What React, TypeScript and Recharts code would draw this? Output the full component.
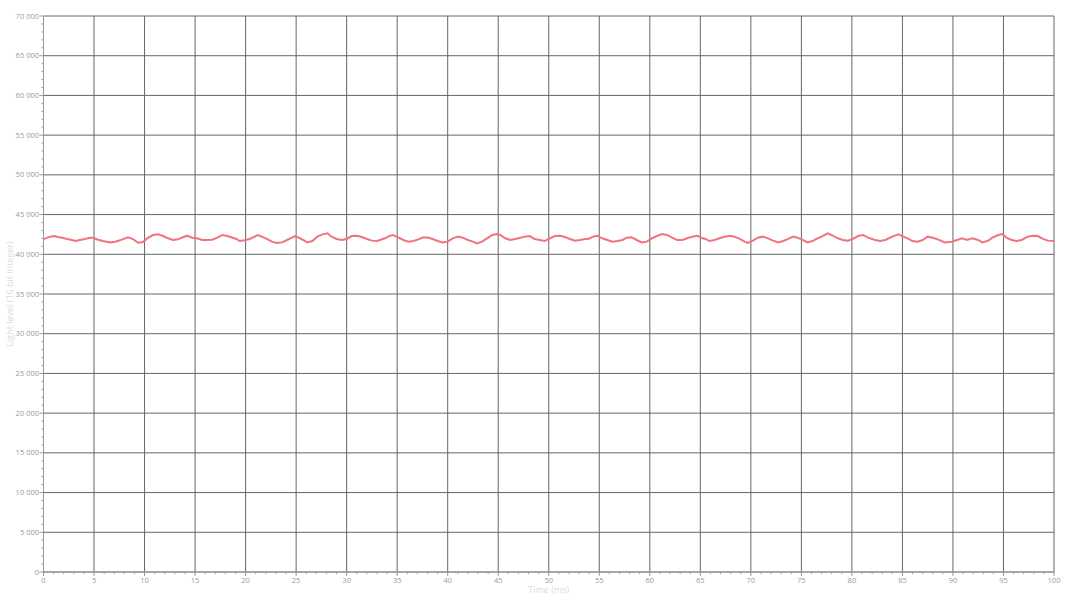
import { CartesianGrid, Line, LineChart, XAxis, YAxis } from 'recharts'

// sample times (ms)
const timeMs = [
  0, 0.64, 1.14, 1.44, 1.83, 2.33, 2.82, 3.12, 3.61, 4.11, 4.6, 4.9, 5.39, 5.89, 6.58, 7.08, 7.57, 8.07, 8.36, 8.86,
  9.35, 9.85, 10.34, 10.84, 11.33, 11.83, 12.32, 12.82, 13.31, 13.8, 14.2, 14.7, 15.19, 15.69,
  16.0, 16.7, 17.2, 17.7, 18.2, 18.7, 19.1, 19.4, 19.9, 20.4, 20.9, 21.2, 21.6, 22.1, 22.6, 23.1, 23.6, 24.1, 24.6, 24.9,
  25.2, 25.7, 26.1, 26.6, 27.1, 27.6, 28.1, 28.5, 29.0, 29.5, 30.0, 30.5, 31.0, 31.5, 32.0, 32.5,
  33.0, 33.3, 33.8, 34.3, 34.6, 35.1, 35.6, 36.1, 36.6, 37.1, 37.6, 38.1, 38.5, 39.0, 39.5, 40.0, 40.5, 41.0, 41.5, 42.0,
  42.5, 42.9, 43.4, 43.9, 44.4, 44.9, 45.2, 45.7, 46.2, 46.7, 47.2, 47.6, 48.1, 48.6,
  49.1, 49.6, 50.1, 50.6, 51.1, 51.6, 52.1, 52.6, 53.1, 53.6, 53.9, 54.4, 54.8, 55.3, 55.8, 56.3, 56.8, 57.3, 57.7, 58.2,
  58.7, 59.2, 59.7, 60.2, 60.7, 61.2, 61.7, 62.2, 62.7, 63.2, 63.7, 64.2, 64.7, 65.2,
  65.5, 65.9, 66.4, 66.9, 67.4, 67.9, 68.4, 68.9, 69.4, 69.7, 70.2, 70.7, 71.2, 71.7, 72.2, 72.7, 73.2, 73.7, 74.2, 74.6,
  75.1, 75.6, 76.1, 76.5, 77.0, 77.6, 78.1, 78.6, 79.1, 79.6, 80.1, 80.6, 81.1, 81.6,
  82.3, 82.8, 83.3, 84.0, 84.6, 85.1, 85.6, 86.0, 86.5, 87.0, 87.5, 88.0, 88.5, 89.2, 89.9, 90.4, 90.9, 91.4, 91.9, 92.5,
  92.9, 93.5, 93.9, 94.5, 94.9, 95.3, 95.8, 96.3, 96.8, 97.4, 97.9, 98.4, 98.9, 99.4, 100,
]

// light level (16 bit integer)
const lightLevel = [
  41900, 42220, 42300, 42170, 42080, 41920, 41800, 41670, 41800, 41920, 42080, 42080, 41830, 41670, 41500, 41580, 41760, 42010, 42140, 41920,
  41450, 41550, 42080, 42420, 42510, 42300, 42010, 41800, 41880, 42140, 42340, 42080, 42010, 41800,
  41800, 41840, 42090, 42430, 42300, 42090, 41930, 41670, 41760, 41930, 42220, 42430, 42220, 41930, 41590, 41420, 41500, 41800, 42090, 42300,
  42130, 41800, 41500, 41670, 42220, 42510, 42640, 42220, 41930, 41800, 41930, 42300, 42340, 42180, 41930, 41720,
  41670, 41800, 42010, 42340, 42430, 42130, 41800, 41590, 41670, 41880, 42130, 42090, 41930, 41670, 41500, 41590, 42010, 42220, 42090, 41800,
  41590, 41380, 41590, 42010, 42430, 42550, 42430, 42010, 41800, 41930, 42090, 42220, 42300, 41930,
  41800, 41670, 42010, 42300, 42340, 42180, 41930, 41720, 41800, 41930, 41930, 42220, 42340, 42010, 41800, 41590, 41670, 41800, 42090, 42130,
  41800, 41500, 41590, 42010, 42300, 42550, 42430, 42090, 41800, 41800, 42010, 42220, 42340, 42010,
  41930, 41670, 41800, 42010, 42220, 42340, 42220, 41930, 41590, 41420, 41720, 42090, 42220, 42010, 41720, 41500, 41670, 41930, 42220, 42090,
  41840, 41500, 41670, 41930, 42220, 42640, 42340, 42010, 41800, 41720, 41930, 42300, 42430, 42090,
  41800, 41670, 41800, 42220, 42510, 42220, 41930, 41670, 41590, 41800, 42220, 42090, 41880, 41500, 41590, 41800, 42010, 41800, 42010, 41800,
  41500, 41720, 42090, 42430, 42550, 42090, 41800, 41670, 41800, 42220, 42340, 42300, 41930, 41720, 41670,
]

const xMajor = [0, 5, 10, 15, 20, 25, 30, 35, 40, 45, 50, 55, 60, 65, 70, 75, 80, 85, 90, 95, 100]
const yMajor = [0, 5000, 10000, 15000, 20000, 25000, 30000, 35000, 40000, 45000, 50000, 55000, 60000, 65000, 70000]
const xMinor = Array.from({ length: 101 }, (_, i) => i)
const yMinor = Array.from({ length: 71 }, (_, i) => i * 1000)

const data = timeMs.map((t, i) => ({ t, v: lightLevel[i] }))

const fmt = (v: number) => String(v).replace(/\B(?=(\d{3})+(?!\d))/g, ' ')

const TICK = '#9a9a9a'
const TITLE = '#dcdcdc'

function XTick({ x, y, payload }: any) {
  const major = xMajor.includes(payload.value)
  return (
    <g>
      <line x1={x} x2={x} y1={y} y2={y + (major ? 4 : 2)} stroke={TICK} />
      {major && (
        <text x={x} y={y + 10.5} textAnchor="middle" fontSize={7.5} fill={TICK}>
          {payload.value}
        </text>
      )}
    </g>
  )
}

function YTick({ x, y, payload }: any) {
  const major = yMajor.includes(payload.value)
  return (
    <g>
      <line x1={x - (major ? 4 : 2)} x2={x} y1={y} y2={y} stroke={TICK} />
      {major && (
        <text x={x - 4.5} y={y} dy="0.35em" textAnchor="end" fontSize={7.5} fill={TICK}>
          {fmt(payload.value)}
        </text>
      )}
    </g>
  )
}

export default function App() {
  return (
    <div style={{ position: 'absolute', left: 0, top: 0, background: '#fff' }}>
      <LineChart
        width={1066}
        height={600}
        data={data}
        margin={{ top: 16, right: 12, bottom: 0, left: 0 }}
        style={{ fontFamily: '"Open Sans", sans-serif' }}
      >
        <CartesianGrid stroke="#666" verticalValues={xMajor} horizontalValues={yMajor} />
        <XAxis
          dataKey="t"
          type="number"
          domain={[0, 100]}
          ticks={xMinor}
          interval={0}
          height={28}
          tickSize={0}
          tickMargin={0}
          tickLine={false}
          axisLine={{ stroke: TICK }}
          tick={<XTick />}
          label={{
            content: ({ viewBox }: any) => (
              <text x={viewBox.x + viewBox.width / 2} y={viewBox.y + 21} textAnchor="middle" fontSize={9} fill={TITLE}>
                Time (ms)
              </text>
            ),
          }}
        />
        <YAxis
          type="number"
          domain={[0, 70000]}
          ticks={yMinor}
          interval={0}
          width={43.5}
          tickSize={0}
          tickMargin={0}
          tickLine={false}
          axisLine={{ stroke: TICK }}
          tick={<YTick />}
          label={{
            content: ({ viewBox }: any) => {
              const cy = viewBox.y + viewBox.height / 2
              return (
                <text x={10} y={cy} dy="0.35em" textAnchor="middle" fontSize={9} fill={TITLE} transform={`rotate(-90, 10, ${cy})`}>
                  Light level (16 bit integer)
                </text>
              )
            },
          }}
        />
        <Line type="linear" dataKey="v" stroke="#f0737f" strokeWidth={2} dot={false} isAnimationActive={false} />
      </LineChart>
    </div>
  )
}
